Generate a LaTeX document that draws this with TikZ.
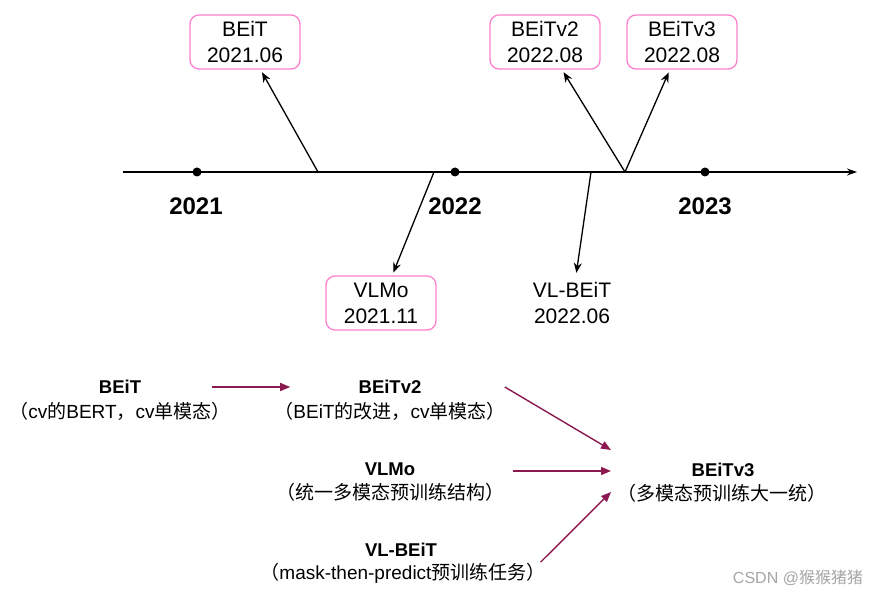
\documentclass[tikz,border=0pt]{standalone}
\usepackage{fontspec}
\setmainfont{Liberation Sans}
\newfontfamily\cjk{Noto Sans CJK SC}
\usetikzlibrary{arrows.meta,calc}
\definecolor{boxpink}{RGB}{255,128,208}
\definecolor{arrmag}{RGB}{140,24,80}
\newcommand\zh[1]{{\cjk #1}}
\begin{document}
\begin{tikzpicture}[x=1pt,y=-1pt,
  datebox/.style={draw=boxpink,line width=1.3pt,rounded corners=9pt,minimum width=110pt,minimum height=54pt,align=center,font=\fontsize{21}{26}\selectfont,inner sep=0pt},
  datetext/.style={align=center,font=\fontsize{21}{26}\selectfont,minimum height=54pt,inner sep=0pt},
  yearlbl/.style={font=\bfseries\fontsize{24}{28}\selectfont},
  tdot/.style={circle,fill=black,minimum size=9pt,inner sep=0pt},
  tarr/.style={line width=1.3pt,-{Stealth[length=10pt,width=8pt]},shorten >=3pt},
  ttl/.style={font=\bfseries\fontsize{18.5}{22}\selectfont,inner sep=1pt},
  subl/.style={font=\fontsize{19}{22}\selectfont,inner sep=1pt},
  marr/.style={draw=arrmag,line width=1.4pt,-{Triangle[length=10pt,width=8pt]}}
]
\useasboundingbox[fill=white] (0,0) rectangle (881,596);
% timeline
\coordinate (tl0) at (123,172);
\coordinate (tl1) at (857,172);
\draw[line width=1.7pt,-{Stealth[length=10pt,width=7pt]}] (tl0) -- (tl1);
\node[tdot] (d1) at (197,172) {};
\node[tdot] (d2) at (455,172) {};
\node[tdot] (d3) at (705,172) {};
\node[yearlbl] (y1) at (196,206) {2021};
\node[yearlbl] (y2) at (455,206) {2022};
\node[yearlbl] (y3) at (705,206) {2023};
\coordinate (b1) at (318,172);
\coordinate (b2) at (434,172);
\coordinate (b3) at (591,172);
\coordinate (b4) at (625,172);
% date boxes
\node[datebox] (beit) at (245,42) {BEiT\\2021.06};
\node[datebox] (beit2) at (545,42) {BEiTv2\\2022.08};
\node[datebox] (beit3) at (682,42) {BEiTv3\\2022.08};
\node[datebox] (vlmo) at (381,303) {VLMo\\2021.11};
\node[datetext] (vlbeit) at (572,303) {VL-BEiT\\2022.06};
\draw[tarr] (b1) -- (beit);
\draw[tarr] (b4) -- (beit2);
\draw[tarr] (b4) -- (beit3);
\draw[tarr] (b2) -- (vlmo);
\draw[tarr] (b3) -- (vlbeit);
% lower part
\node[ttl] (t1) at (120,387) {BEiT};
\node[subl] (s1) at (120,411) {\zh{（}cv\zh{的}BERT\zh{，}cv\zh{单模态）}};
\node[ttl] (t2) at (390,387) {BEiTv2};
\node[subl] (s2) at (390,411) {\zh{（}BEiT\zh{的改进，}cv\zh{单模态）}};
\node[ttl] (t3) at (390,469) {VLMo};
\node[subl] (s3) at (390,492) {\zh{（统一多模态预训练结构）}};
\node[ttl] (t4) at (401,550) {VL-BEiT};
\node[subl] (s4) at (403,573) {\zh{（}mask-then-predict\zh{预训练任务）}};
\node[ttl] (t5) at (723,470) {BEiTv3};
\node[subl] (s5) at (722,493) {\zh{（多模态预训练大一统）}};
\coordinate (hub) at (611,471);
\draw[marr] ($(s1.east|-t1)+(-20,0)$) -- ($(s2.west|-t1)+(17,0)$);
\draw[marr] ($(s2.east|-t2)+(-2,0)$) -- ([yshift=21pt]hub);
\draw[marr] ($(s3.east|-hub)+(8,0)$) -- (hub);
\draw[marr] ($(s4.east)+(-6,-11)$) -- ([yshift=-21pt]hub);
\node[font=\fontsize{16}{18}\selectfont,text=black!35] (wm) at (798,578) {CSDN @\zh{猴猴猪猪}};
\end{tikzpicture}
\end{document}
